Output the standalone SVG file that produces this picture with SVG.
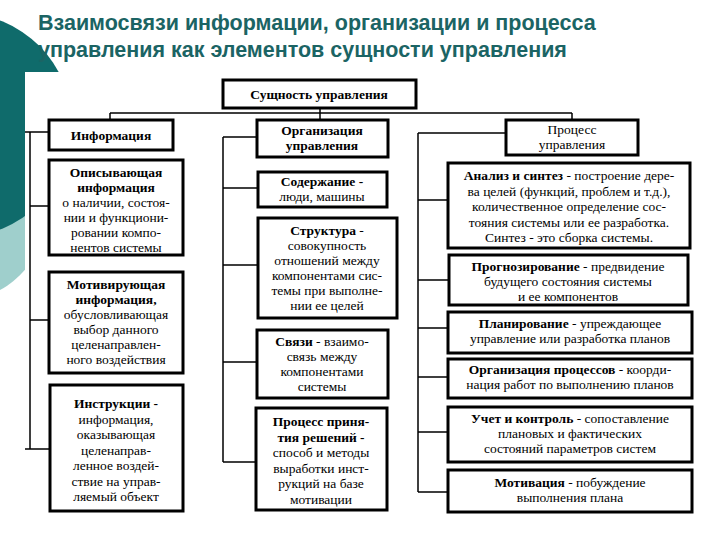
<svg xmlns="http://www.w3.org/2000/svg" width="720" height="540" viewBox="0 0 720 540">
<style>
.b{fill:#fff;stroke:#000;stroke-width:3}
.t{font-size:13.5px;fill:#000;text-anchor:middle}
.k{font-weight:bold}
.c{stroke:#000;stroke-width:1.5;fill:none}
.h{font-weight:bold;font-size:21.5px;fill:#1b6464}
</style>
<rect width="720" height="540" fill="#fff"/>
<circle cx="-40" cy="215" r="85" fill="#9fcfcc"/>
<circle cx="-40" cy="125" r="112" fill="#0f6b6b"/>
<rect x="25" y="72" width="695" height="468" fill="#fff"/>
<g font-family="Liberation Sans, Arial, sans-serif">
<text class="h" x="38" y="30">Взаимосвязи информации, организации и процесса</text>
<text class="h" x="38" y="57">управления как элементов сущности управления</text>
</g>
<g id="connectors">
<path class="c" d="M320 108V113M110 113H572M110 113V121M320 113V120M572 113V121"/>
<path class="c" d="M30 132V449M25 132H49M30 206H49M30 320H49M25 449H50"/>
<path class="c" d="M223 137V462M223 137H257M223 188H258M223 265H258M223 362H257M223 462H256"/>
<path class="c" d="M418 133V492M418 133H506M418 200H448M418 280H449M418 328H448M418 377H448M418 432H448M418 492H448"/>
</g>
<g font-family="Liberation Serif, Times New Roman, DejaVu Serif, serif">
<g id="root"><rect class="b" x="223" y="80" width="193" height="28"/><text class="t k" x="319" y="99">Сущность управления</text></g>
<g id="info"><rect class="b" x="49" y="120" width="124" height="30"/><text class="t k" x="111" y="140">Информация</text></g>
<g id="opis"><rect class="b" x="49" y="160" width="134" height="95"/><text class="t" x="116" y="177"><tspan class="k">Описывающая</tspan><tspan class="k" x="116" dy="15">информация</tspan><tspan x="116" dy="15">о наличии, состоя-</tspan><tspan x="116" dy="15">нии и функциони-</tspan><tspan x="116" dy="15">ровании компо-</tspan><tspan x="116" dy="15">нентов системы</tspan></text></g>
<g id="motiv"><rect class="b" x="49" y="272" width="134" height="101"/><text class="t" x="116" y="289"><tspan class="k">Мотивирующая</tspan><tspan class="k" x="116" dy="15">информация,</tspan><tspan x="116" dy="15">обусловливающая</tspan><tspan x="116" dy="15">выбор данного</tspan><tspan x="116" dy="15">целенаправлен-</tspan><tspan x="116" dy="15">ного воздействия</tspan></text></g>
<g id="instr"><rect class="b" x="50" y="385" width="133" height="126"/><text class="t" x="116" y="408"><tspan class="k">Инструкции -</tspan><tspan x="116" dy="15.5">информация,</tspan><tspan x="116" dy="15.5">оказывающая</tspan><tspan x="116" dy="15.5">целенаправ-</tspan><tspan x="116" dy="15.5">ленное воздей-</tspan><tspan x="116" dy="15.5">ствие на управ-</tspan><tspan x="116" dy="15.5">ляемый объект</tspan></text></g>
<g id="org"><rect class="b" x="257" y="120" width="131" height="37"/><text class="t k" x="322" y="135">Организация<tspan x="322" dy="15">управления</tspan></text></g>
<g id="sod"><rect class="b" x="258" y="172" width="129" height="35"/><text class="t" x="322" y="186"><tspan class="k">Содержание -</tspan><tspan x="322" dy="15">люди, машины</tspan></text></g>
<g id="struct"><rect class="b" x="258" y="218" width="139" height="100"/><text class="t" x="327" y="235"><tspan class="k">Структура</tspan> -<tspan x="327" dy="15">совокупность</tspan><tspan x="327" dy="15">отношений между</tspan><tspan x="327" dy="15">компонентами сис-</tspan><tspan x="327" dy="15">темы при выполне-</tspan><tspan x="327" dy="15">нии ее целей</tspan></text></g>
<g id="svyazi"><rect class="b" x="257" y="330" width="131" height="68"/><text class="t" x="322" y="346"><tspan class="k">Связи</tspan> - взаимо-<tspan x="322" dy="15">связь между</tspan><tspan x="322" dy="15">компонентами</tspan><tspan x="322" dy="15">системы</tspan></text></g>
<g id="proc"><rect class="b" x="256" y="408" width="131" height="102"/><text class="t" x="321" y="426"><tspan class="k">Процесс приня-</tspan><tspan class="k" x="321" dy="15.5">тия решений -</tspan><tspan x="321" dy="15.5">способ и методы</tspan><tspan x="321" dy="15.5">выработки инст-</tspan><tspan x="321" dy="15.5">рукций на базе</tspan><tspan x="321" dy="15.5">мотивации</tspan></text></g>
<g id="procupr"><rect class="b" x="506" y="120" width="132" height="35"/><text class="t" x="572" y="134">Процесс<tspan x="572" dy="15">управления</tspan></text></g>
<g id="analiz"><rect class="b" x="448" y="163" width="242" height="85"/><text class="t" x="569" y="180"><tspan class="k">Анализ и синтез</tspan> - построение дере-<tspan x="569" dy="15.5">ва целей (функций, проблем и т.д.),</tspan><tspan x="569" dy="15.5">количественное определение сос-</tspan><tspan x="569" dy="15.5">тояния системы или ее разработка.</tspan><tspan x="569" dy="15.5">Синтез - это сборка системы.</tspan></text></g>
<g id="prog"><rect class="b" x="449" y="255" width="239" height="50"/><text class="t" x="568" y="271"><tspan class="k">Прогнозирование</tspan> - предвидение<tspan x="568" dy="15">будущего состояния системы</tspan><tspan x="568" dy="15">и ее компонентов</tspan></text></g>
<g id="plan"><rect class="b" x="448" y="312" width="244" height="41"/><text class="t" x="570" y="328"><tspan class="k">Планирование</tspan> - упреждающее<tspan x="570" dy="15">управление или разработка планов</tspan></text></g>
<g id="orgproc"><rect class="b" x="448" y="359" width="244" height="39"/><text class="t" x="570" y="374"><tspan class="k">Организация процессов</tspan> - коорди-<tspan x="570" dy="15">нация работ по выполнению планов</tspan></text></g>
<g id="uchet"><rect class="b" x="448" y="407" width="244" height="55"/><text class="t" x="570" y="423"><tspan class="k">Учет и контроль</tspan> - сопоставление<tspan x="570" dy="15">плановых и фактических</tspan><tspan x="570" dy="15">состояний параметров систем</tspan></text></g>
<g id="motivac"><rect class="b" x="448" y="470" width="244" height="42"/><text class="t" x="570" y="487"><tspan class="k">Мотивация</tspan> - побуждение<tspan x="570" dy="15">выполнения плана</tspan></text></g>
</g>
</svg>
